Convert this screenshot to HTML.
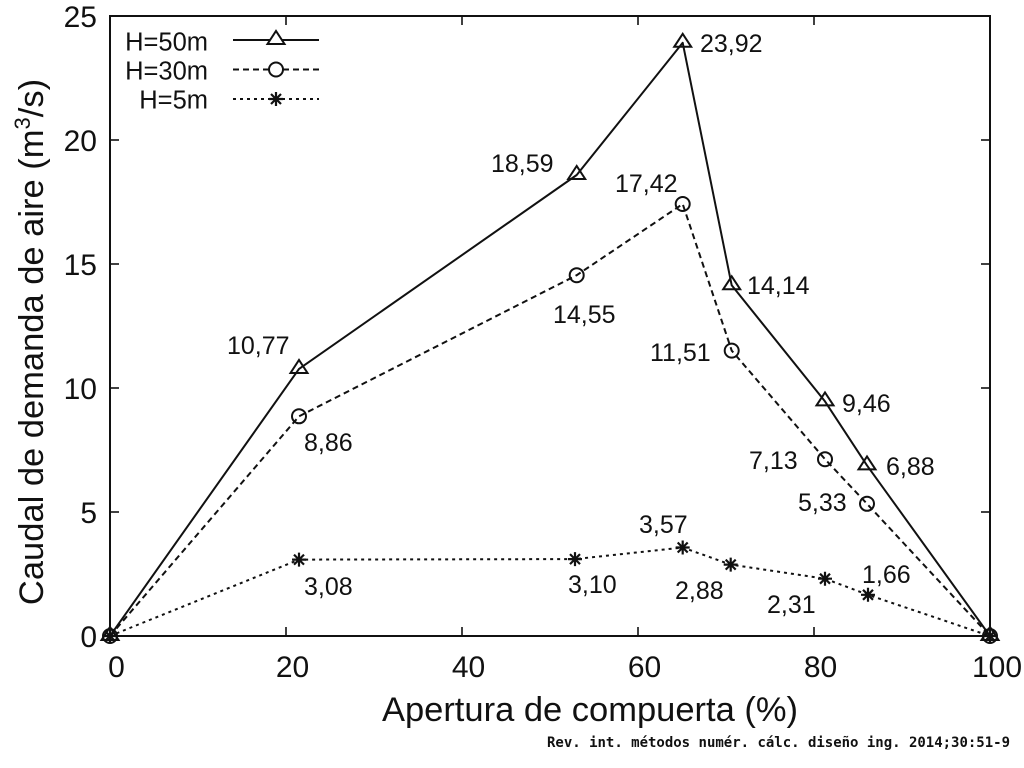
<!DOCTYPE html>
<html><head><meta charset="utf-8"><style>
html,body{margin:0;padding:0;background:#fff;}
svg{display:block;}
text{font-family:"Liberation Sans",Arial,sans-serif;fill:#111;}
</style></head><body>
<svg width="1024" height="768" viewBox="0 0 1024 768" xmlns="http://www.w3.org/2000/svg">
<rect width="1024" height="768" fill="#fff"/>
<!-- frame -->
<rect x="110" y="16" width="880" height="620" fill="none" stroke="#111" stroke-width="2"/>
<!-- ticks -->
<g stroke="#111" stroke-width="1.6">
<line x1="286" y1="636" x2="286" y2="627"/><line x1="286" y1="16" x2="286" y2="25"/>
<line x1="462" y1="636" x2="462" y2="627"/><line x1="462" y1="16" x2="462" y2="25"/>
<line x1="638" y1="636" x2="638" y2="627"/><line x1="638" y1="16" x2="638" y2="25"/>
<line x1="814" y1="636" x2="814" y2="627"/><line x1="814" y1="16" x2="814" y2="25"/>
<line x1="110" y1="512" x2="119" y2="512"/><line x1="990" y1="512" x2="981" y2="512"/>
<line x1="110" y1="388" x2="119" y2="388"/><line x1="990" y1="388" x2="981" y2="388"/>
<line x1="110" y1="264" x2="119" y2="264"/><line x1="990" y1="264" x2="981" y2="264"/>
<line x1="110" y1="140" x2="119" y2="140"/><line x1="990" y1="140" x2="981" y2="140"/>
</g>
<!-- y tick labels -->
<g font-size="30" text-anchor="end">
<text x="97" y="647">0</text>
<text x="97" y="523">5</text>
<text x="97" y="399">10</text>
<text x="97" y="275">15</text>
<text x="97" y="151">20</text>
<text x="97" y="27">25</text>
</g>
<!-- x tick labels -->
<g font-size="30" text-anchor="middle">
<text x="116.5" y="677">0</text>
<text x="292.5" y="677">20</text>
<text x="468.5" y="677">40</text>
<text x="644.5" y="677">60</text>
<text x="820.5" y="677">80</text>
<text x="997" y="677">100</text>
</g>
<!-- axis titles -->
<text x="590" y="721" font-size="34.5" text-anchor="middle">Apertura de compuerta (%)</text>
<text transform="translate(43,342) rotate(-90)" font-size="34.5" text-anchor="middle">Caudal de demanda de aire (m<tspan font-size="22" dy="-13">3</tspan><tspan dy="13">/s)</tspan></text>

<!-- series lines -->
<polyline fill="none" stroke="#111" stroke-width="2" stroke-linejoin="round"
 points="110,636 299,368.9 576.7,175 682.7,42.8 731.7,285.3 825,401.4 867,465.4 990,636"/>
<polyline fill="none" stroke="#111" stroke-width="2" stroke-dasharray="6,4"
 points="110,636 299,416.3 576.7,275.2 682.7,204 731.7,350.6 825,459.2 867,503.8 990,636"/>
<polyline fill="none" stroke="#111" stroke-width="2" stroke-dasharray="3,4"
 points="110,636 299,559.6 575,559.1 682.7,547.5 730.7,564.6 825,578.7 868,594.8 990,636"/>

<!-- triangles -->
<g fill="none" stroke="#111" stroke-width="2">
<path d="M101.5,640 L118.5,640 L110,627 Z"/>
<path d="M290.5,373 L307.5,373 L299,360 Z"/>
<path d="M568.2,179 L585.2,179 L576.7,166 Z"/>
<path d="M674.2,46.8 L691.2,46.8 L682.7,33.8 Z"/>
<path d="M723.2,289.3 L740.2,289.3 L731.7,276.3 Z"/>
<path d="M816.5,405.4 L833.5,405.4 L825,392.4 Z"/>
<path d="M858.5,469.4 L875.5,469.4 L867,456.4 Z"/>
<path d="M981.5,640 L998.5,640 L990,627 Z"/>
</g>
<!-- circles -->
<g fill="none" stroke="#111" stroke-width="2">
<circle cx="110" cy="636" r="7"/>
<circle cx="299" cy="416.3" r="7"/>
<circle cx="576.7" cy="275.2" r="7"/>
<circle cx="682.7" cy="204" r="7"/>
<circle cx="731.7" cy="350.6" r="7"/>
<circle cx="825" cy="459.2" r="7"/>
<circle cx="867" cy="503.8" r="7"/>
<circle cx="990" cy="636" r="7"/>
</g>
<!-- stars -->
<g stroke="#111" stroke-width="2.2">
<path d="M103,636 h14 M110,629 v14 M105,631 l10,10 M115,631 l-10,10"/>
<path d="M292,559.6 h14 M299,552.6 v14 M294,554.6 l10,10 M304,554.6 l-10,10"/>
<path d="M568,559.1 h14 M575,552.1 v14 M570,554.1 l10,10 M580,554.1 l-10,10"/>
<path d="M675.7,547.5 h14 M682.7,540.5 v14 M677.7,542.5 l10,10 M687.7,542.5 l-10,10"/>
<path d="M723.7,564.6 h14 M730.7,557.6 v14 M725.7,559.6 l10,10 M735.7,559.6 l-10,10"/>
<path d="M818,578.7 h14 M825,571.7 v14 M820,573.7 l10,10 M830,573.7 l-10,10"/>
<path d="M861,594.8 h14 M868,587.8 v14 M863,589.8 l10,10 M873,589.8 l-10,10"/>
<path d="M983,636 h14 M990,629 v14 M985,631 l10,10 M995,631 l-10,10"/>
</g>

<!-- data labels -->
<g font-size="25">
<text x="227" y="354">10,77</text>
<text x="304" y="451">8,86</text>
<text x="491" y="172">18,59</text>
<text x="615" y="192">17,42</text>
<text x="553" y="323">14,55</text>
<text x="650" y="361">11,51</text>
<text x="700" y="52">23,92</text>
<text x="747" y="294">14,14</text>
<text x="842" y="412">9,46</text>
<text x="749" y="469">7,13</text>
<text x="886" y="475">6,88</text>
<text x="798" y="511">5,33</text>
<text x="304" y="595">3,08</text>
<text x="568" y="593">3,10</text>
<text x="639" y="533">3,57</text>
<text x="675" y="599">2,88</text>
<text x="767" y="613">2,31</text>
<text x="862" y="583">1,66</text>
</g>

<!-- legend -->
<g font-size="25.5" text-anchor="end">
<text x="208" y="50.5">H=50m</text>
<text x="208" y="79.5">H=30m</text>
<text x="208" y="108.5">H=5m</text>
</g>
<line x1="233" y1="40" x2="319" y2="40" stroke="#111" stroke-width="2"/>
<path d="M267.5,44 L284.5,44 L276,31 Z" fill="#fff" stroke="#111" stroke-width="2"/>
<line x1="233" y1="69.5" x2="319" y2="69.5" stroke="#111" stroke-width="2" stroke-dasharray="6,4"/>
<circle cx="276" cy="69.5" r="7" fill="#fff" stroke="#111" stroke-width="2"/>
<line x1="233" y1="99" x2="319" y2="99" stroke="#111" stroke-width="2" stroke-dasharray="3,4"/>
<path d="M269,99 h14 M276,92 v14 M271,94 l10,10 M281,94 l-10,10" stroke="#111" stroke-width="2.2"/>

<!-- footer -->
<text x="547" y="747" font-size="14" font-weight="bold" textLength="463" lengthAdjust="spacing" style="font-family:'DejaVu Sans Mono','Liberation Mono',monospace">Rev. int. métodos numér. cálc. diseño ing. 2014;30:51-9</text>
</svg>
</body></html>
